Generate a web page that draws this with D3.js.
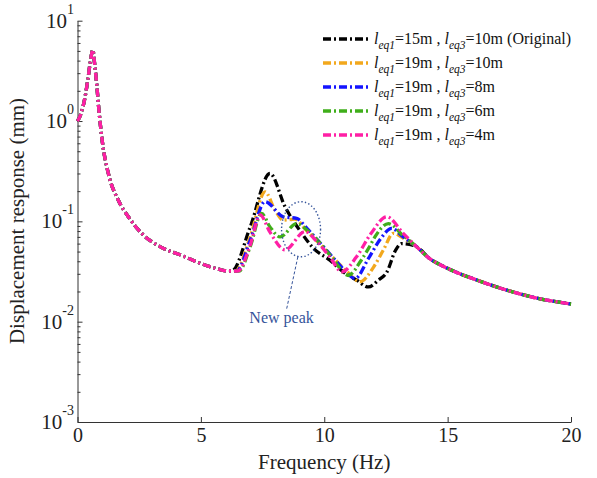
<!DOCTYPE html>
<html>
<head>
<meta charset="utf-8">
<script src="https://cdn.jsdelivr.net/npm/d3@7"></script>
<style>
  body { margin: 0; background: #fff; }
  svg { font-family: "Liberation Serif", "Times New Roman", serif; }
</style>
</head>
<body>
<svg width="597" height="478"></svg>
<script>
// ### Data ###
// shared low-frequency part (all five curves sit on top of each other here)
var freqLow = [0, 0.15, 0.3, 0.42, 0.52, 0.62, 0.7, 0.78, 0.86, 1.0, 1.25, 1.65, 2.06, 2.6, 3.4, 4.2, 5.0, 5.6, 6.1]
var dispLow = [1.0, 1.2, 1.7, 2.6, 3.9, 5.1, 3.6, 2.3, 1.35, 0.64, 0.30, 0.163, 0.111, 0.076, 0.055, 0.046, 0.038, 0.034, 0.032]

// shared high-frequency tail
var freqTail = [13.75, 14.3, 14.7, 15.5, 16.0, 17.4, 18.7, 20]
var dispTail = [0.0557, 0.042, 0.037, 0.030, 0.027, 0.0206, 0.017, 0.0150]

// middle part, one pair of arrays per case
var freqOrig = [6.25, 7.0, 7.8, 8.41, 9.09, 9.56, 10.23, 10.8, 11.31, 11.79, 12.2, 12.53, 12.9, 13.14, 13.45]
var dispOrig = [0.032, 0.088, 0.30, 0.14, 0.076, 0.054, 0.041, 0.031, 0.026, 0.0222, 0.026, 0.031, 0.052, 0.060, 0.059]

var freq10 = [6.4, 7.0, 7.6, 8.0, 8.34, 8.8, 9.3, 9.8, 10.3, 10.9, 11.45, 12.0, 12.4, 12.8, 13.2]
var disp10 = [0.032, 0.07, 0.197, 0.13, 0.103, 0.105, 0.08, 0.06, 0.045, 0.032, 0.025, 0.035, 0.052, 0.076, 0.068]

var freq8 = [6.45, 7.0, 7.6, 8.34, 8.88, 9.3, 9.8, 10.3, 10.8, 11.25, 11.8, 12.3, 12.73, 13.2]
var disp8 = [0.032, 0.065, 0.157, 0.111, 0.107, 0.085, 0.062, 0.045, 0.033, 0.027, 0.043, 0.068, 0.085, 0.07]

var freq6 = [6.55, 7.0, 7.46, 7.8, 8.21, 8.88, 9.3, 9.8, 10.3, 10.98, 11.5, 11.8, 12.1, 12.6, 13.2]
var disp6 = [0.032, 0.056, 0.12, 0.088, 0.070, 0.095, 0.082, 0.062, 0.044, 0.029, 0.041, 0.054, 0.073, 0.095, 0.072]

var freq4 = [6.5, 7.0, 7.4, 7.8, 8.41, 9.22, 9.7, 10.23, 10.71, 11.3, 11.9, 12.53, 13.2]
var disp4 = [0.032, 0.058, 0.116, 0.078, 0.052, 0.079, 0.063, 0.044, 0.0314, 0.044, 0.076, 0.111, 0.076]

var caseEq1 = ['15', '19', '19', '19', '19']
var caseEq3 = ['10', '10', '8', '6', '4']
var caseNote = [' (Original)', '', '', '', '']
var caseColors = ['#000000', '#f2a81d', '#1414ff', '#3fae1a', '#ff1fa5']

var xTicks = [0, 5, 10, 15, 20]
var yDecades = [1e-3, 1e-2, 1e-1, 1e0, 1e1]
var yExponents = ['-3', '-2', '-1', '0', '1']

// ### Setting up canvas ###
var svg = d3.select('svg')
var plotLeft = 77.5, plotRight = 571, plotTop = 20.7, plotBottom = 422
var dashes = '8,3,2,3'

var xScale = d3.scaleLinear()
				.domain([0, 20])
				.range([plotLeft, plotRight])
var yScale = d3.scaleLog()
				.domain([1e-3, 10])
				.range([plotBottom, plotTop])

// stitch shared parts and the case-specific middle
function buildSeries(f, v) {
	var pts = []
	freqLow.forEach((d, i) => pts.push([d, dispLow[i]]))
	f.forEach((d, i) => pts.push([d, v[i]]))
	freqTail.forEach((d, i) => pts.push([d, dispTail[i]]))
	return pts
}
var series = [
	buildSeries(freqOrig, dispOrig),
	buildSeries(freq10, disp10),
	buildSeries(freq8, disp8),
	buildSeries(freq6, disp6),
	buildSeries(freq4, disp4)
]

// ### Axes ###
var xAxis = d3.axisBottom(xScale)
				.tickValues(xTicks)
				.tickSizeInner(-5)
				.tickSizeOuter(0)
				.tickPadding(6)
var gx = svg.append('g')
	.attr('transform', `translate(0, ${plotBottom})`)
	.call(xAxis)
gx.selectAll('text')
	.attr('font-size', 20)
	.attr('font-family', 'Liberation Serif')
	.attr('fill', '#222')

var minorTicks = []
yDecades.slice(0, 4).forEach(d => {
	for (var k = 2; k <= 9; k++) minorTicks.push(d * k)
})
svg.append('g')
	.attr('transform', `translate(${plotLeft}, 0)`)
	.call(d3.axisLeft(yScale).tickValues(minorTicks).tickSizeInner(-3).tickSizeOuter(0).tickFormat(''))
	.select('.domain').remove()
svg.append('g')
	.attr('transform', `translate(${plotLeft}, 0)`)
	.call(d3.axisLeft(yScale).tickValues(yDecades).tickSizeInner(-5).tickSizeOuter(0).tickFormat(''))

svg.selectAll('.domain, .tick line').attr('stroke', '#333')

// y tick labels: 10 with superscript exponent
var yLab = svg.append('g')
	.selectAll('text')
	.data(yDecades)
	.enter()
	.append('text')
	.attr('x', 74)
	.attr('y', d => yScale(d) + 7)
	.attr('text-anchor', 'end')
	.attr('font-size', 21)
	.attr('fill', '#222')
yLab.append('tspan').text('10')
yLab.append('tspan')
	.attr('dy', -14)
	.attr('font-size', 14)
	.text((d, i) => yExponents[i])

// axis titles
svg.append('text')
	.attr('x', (plotLeft + plotRight) / 2)
	.attr('y', 469)
	.attr('text-anchor', 'middle')
	.attr('font-size', 21)
	.attr('fill', '#222')
	.text('Frequency (Hz)')
svg.append('text')
	.attr('transform', 'translate(24, 221) rotate(-90)')
	.attr('text-anchor', 'middle')
	.attr('font-size', 21)
	.attr('fill', '#222')
	.text('Displacement response (mm)')

// ### Lines ###
var line = d3.line()
	.x(d => xScale(d[0]))
	.y(d => yScale(d[1]))
	.curve(d3.curveMonotoneX)

svg.append('g')
	.selectAll('path')
	.data(series)
	.enter()
	.append('path')
	.attr('d', line)
	.attr('fill', 'none')
	.attr('stroke', (d, i) => caseColors[i])
	.attr('stroke-width', 3.3)
	.attr('stroke-dasharray', dashes)

// ### Annotation ###
var annColor = '#34539a'
var ellF = 9.06, ellTop = 0.157, ellBot = 0.0443, ellHalfW = 0.79
var ellCy = (yScale(ellTop) + yScale(ellBot)) / 2
svg.append('ellipse')
	.attr('cx', xScale(ellF))
	.attr('cy', ellCy)
	.attr('rx', xScale(ellF + ellHalfW) - xScale(ellF))
	.attr('ry', (yScale(ellBot) - yScale(ellTop)) / 2)
	.attr('fill', 'none')
	.attr('stroke', annColor)
	.attr('stroke-width', 1.4)
	.attr('stroke-dasharray', '1.4,2.2')
svg.append('line')
	.attr('x1', xScale(8.93))
	.attr('y1', yScale(ellBot))
	.attr('x2', xScale(8.47))
	.attr('y2', yScale(0.0132))
	.attr('stroke', annColor)
	.attr('stroke-width', 1)
	.attr('stroke-dasharray', '3,2')
svg.append('text')
	.attr('x', xScale(8.27))
	.attr('y', yScale(0.0108) + 5)
	.attr('text-anchor', 'middle')
	.attr('font-size', 16)
	.attr('fill', annColor)
	.text('New peak')

// ### Legend ###
var legend = svg.append('g')
	.selectAll('g')
	.data(caseColors)
	.enter()
	.append('g')
	.attr('transform', (d, i) => `translate(323, ${39 + i * 24})`)
legend.append('line')
	.attr('x1', 0)
	.attr('x2', 48)
	.attr('stroke', d => d)
	.attr('stroke-width', 3.3)
	.attr('stroke-dasharray', dashes)
var lt = legend.append('text')
	.attr('x', 51)
	.attr('y', 5)
	.attr('font-size', 16)
	.attr('fill', '#111')
lt.append('tspan').attr('font-style', 'italic').text('l')
lt.append('tspan').attr('font-style', 'italic').attr('font-size', 11.5).attr('dy', 5).text('eq1')
lt.append('tspan').attr('dy', -5).text((d, i) => '=' + caseEq1[i] + 'm , ')
lt.append('tspan').attr('font-style', 'italic').text('l')
lt.append('tspan').attr('font-style', 'italic').attr('font-size', 11.5).attr('dy', 5).text('eq3')
lt.append('tspan').attr('dy', -5).text((d, i) => '=' + caseEq3[i] + 'm' + caseNote[i])
</script>
</body>
</html>
